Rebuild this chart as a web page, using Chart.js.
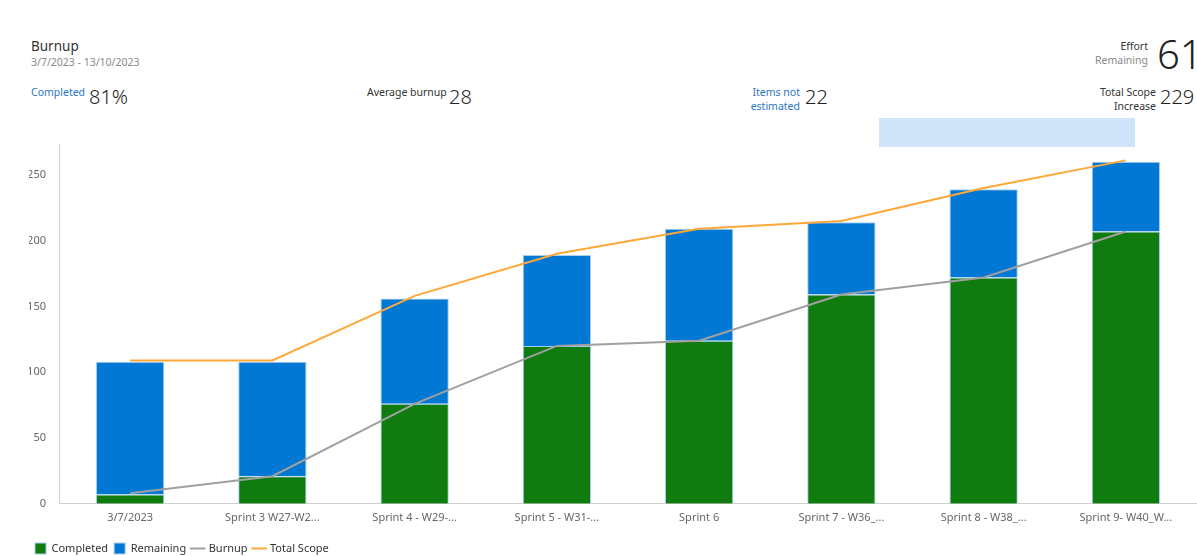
<!DOCTYPE html>
<html>
<head>
<meta charset="utf-8">
<script src="https://cdn.jsdelivr.net/npm/chart.js@4.4.0/dist/chart.umd.min.js"></script>
<style>
  body { margin: 0; background: #fff; font-family: "Noto Sans", sans-serif; color: #333; }
  #wrap { position: relative; width: 1197px; height: 556px; overflow: hidden; }
  .abs { position: absolute; white-space: nowrap; }
  .lbl { font-size: 10.5px; line-height: 14px; }
  .blue { color: #2b74c4; }
  .grey { color: #8a8a8a; }
  .num { font-size: 20px; line-height: 20px; font-weight: 300; color: #222; }
  #band { position: absolute; left: 879px; top: 118px; width: 256px; height: 29px; background: #cfe4f8; }
  #chartBox { position: absolute; left: 0; top: 125px; width: 1197px; height: 439px; }
</style>
</head>
<body>
<div id="wrap">
  <div class="abs" style="left:31px;top:37px;font-size:13.5px;">Burnup</div>
  <div class="abs grey" style="left:31px;top:55px;font-size:10.5px;">3/7/2023 - 13/10/2023</div>

  <div class="abs lbl blue" style="left:31px;top:85px;">Completed</div>
  <div class="abs num" style="left:89px;top:87px;">81%</div>

  <div class="abs lbl" style="left:367px;top:85px;">Average burnup</div>
  <div class="abs num" style="left:449px;top:87px;">28</div>

  <div class="abs lbl blue" style="right:397px;top:85px;text-align:right;">Items not<br>estimated</div>
  <div class="abs num" style="left:805px;top:87px;">22</div>

  <div class="abs lbl" style="right:49px;top:39px;text-align:right;">Effort<br><span class="grey">Remaining</span></div>
  <div class="abs" style="left:1157px;top:34px;font-size:40px;line-height:40px;font-weight:300;color:#222;">61</div>

  <div class="abs lbl" style="right:41px;top:85px;text-align:right;">Total Scope<br>Increase</div>
  <div class="abs num" style="left:1160px;top:87px;">229</div>

  <div id="band"></div>
  <div id="chartBox"><canvas id="burnupChart"></canvas></div>
</div>

<script>
const categories = ['3/7/2023', 'Sprint 3 W27-W2...', 'Sprint 4 - W29-...', 'Sprint 5 - W31-...', 'Sprint 6', 'Sprint 7 - W36_...', 'Sprint 8 - W38_...', 'Sprint 9- W40_W...'];
const completed = [7, 21, 76, 120, 124, 159, 172, 207];
const remaining = [101, 87, 80, 69, 85, 55, 67, 53];
const burnup = [8, 21, 76, 120, 124, 159, 172, 207];
const totalScope = [109, 109, 158, 190, 209, 215, 240, 261];
const yTicks = [0, 50, 100, 150, 200, 250];
const legendOrder = ['Completed', 'Remaining', 'Burnup', 'Total Scope'];

const tickFont = { family: '"Noto Sans", sans-serif', size: 11 };

new Chart(document.getElementById('burnupChart'), {
    data: {
        labels: categories,
        datasets: [
            { type: 'line', label: 'Burnup', data: burnup, borderColor: '#a0a0a0', backgroundColor: '#a0a0a0',
              borderWidth: 2, pointRadius: 0, pointStyle: 'line', tension: 0, stack: 'burnup', order: 1 },
            { type: 'line', label: 'Total Scope', data: totalScope, borderColor: '#ffa83a', backgroundColor: '#ffa83a',
              borderWidth: 2, pointRadius: 0, pointStyle: 'line', tension: 0, stack: 'scope', order: 0 },
            { type: 'bar', label: 'Completed', data: completed, backgroundColor: '#107c10', borderColor: '#a8cdf0',
              borderWidth: 1, pointStyle: 'rect', stack: 'bars', barPercentage: 0.48, categoryPercentage: 1, order: 2 },
            { type: 'bar', label: 'Remaining', data: remaining, backgroundColor: '#0078d4', borderColor: '#a8cdf0',
              borderWidth: 1, pointStyle: 'rect', stack: 'bars', barPercentage: 0.48, categoryPercentage: 1, order: 3 }
        ]
    },
    options: {
        responsive: true,
        maintainAspectRatio: false,
        animation: false,
        layout: { padding: { top: 8, right: 0, left: 29, bottom: 0 } },
        plugins: {
            tooltip: { enabled: false },
            legend: {
                position: 'bottom',
                align: 'start',
                labels: {
                    usePointStyle: true,
                    boxWidth: 11,
                    boxHeight: 11,
                    padding: 6,
                    color: '#333',
                    font: { family: '"Noto Sans", sans-serif', size: 11 },
                    sort: (a, b) => legendOrder.indexOf(a.text) - legendOrder.indexOf(b.text)
                }
            }
        },
        scales: {
            x: {
                stacked: true,
                grid: { display: false, drawTicks: false },
                border: { color: '#d0d0d0' },
                afterFit: (axis) => { axis.height += 6; },
                ticks: { color: '#666', font: tickFont, maxRotation: 0, autoSkip: false, padding: 7 }
            },
            y: {
                stacked: true,
                min: 0,
                max: 273,
                grid: { display: false, drawTicks: false },
                border: { color: '#d0d0d0' },
                afterBuildTicks: (axis) => { axis.ticks = yTicks.map(v => ({ value: v })); },
                afterFit: (axis) => { axis.width = 30; },
                ticks: { color: '#666', font: tickFont, padding: 13 }
            }
        }
    }
});
</script>
</body>
</html>
